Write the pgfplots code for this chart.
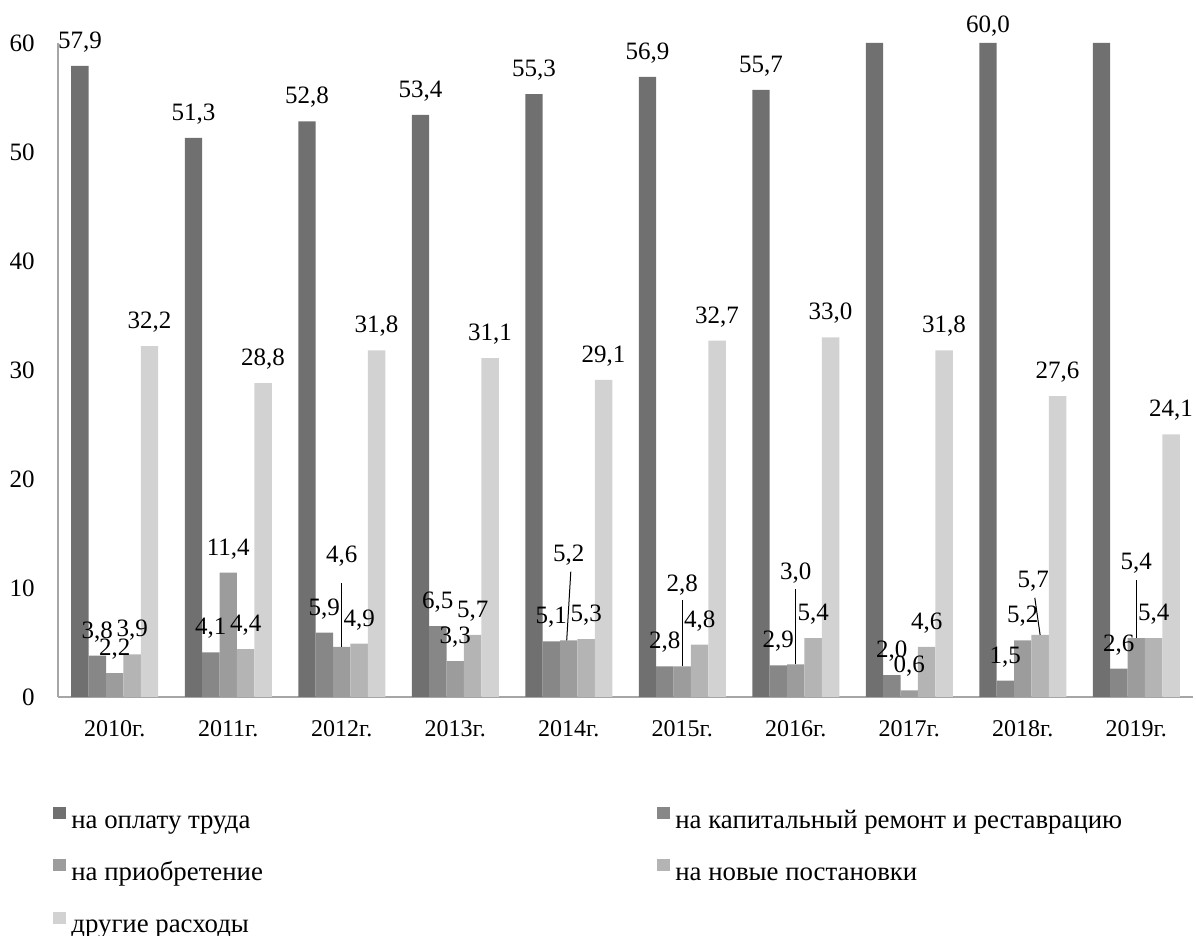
\documentclass[border=0pt]{standalone}
\usepackage{fontspec}
\setmainfont{Liberation Serif}
\usepackage{pgfplots}
\usepackage{pgfplotstable}
\pgfplotsset{compat=1.18}

\definecolor{cA}{HTML}{707070}
\definecolor{cB}{HTML}{878787}
\definecolor{cC}{HTML}{9C9C9C}
\definecolor{cD}{HTML}{B4B4B4}
\definecolor{cE}{HTML}{D2D2D2}
\definecolor{axgray}{HTML}{A6A6A6}

% x = year index (0 = 2010), ox/oy = extra label offset in pt
\pgfplotstableread{
x y hid ox oy
0 57.9 0 0 0
1 51.3 0 0 0
2 52.8 0 0 0
3 53.4 0 0 0
4 55.3 0 0 0
5 56.9 0 0 0
6 55.7 0 0 0
7 60.0 1 0 0
8 60.0 0 0 -3.5
9 60.0 1 0 0
}\sA
\pgfplotstableread{
x y hid ox oy
0 3.8 0 0 0
1 4.1 0 0 0
2 5.9 0 0 0
3 6.5 0 0 0
4 5.1 0 0 0
5 2.8 0 0 0
6 2.9 0 0 0
7 2.0 0 0 0
8 1.5 0 0 0
9 2.6 0 0 0
}\sB
\pgfplotstableread{
x y hid ox oy
0 2.2 0 0 0
1 11.4 0 0 0
2 4.6 0 0 33.5
3 3.3 0 0 0
4 5.2 0 0 30.5
5 2.8 0 0 28.5
6 3.0 0 0 33.5
7 0.6 0 0 0
8 5.2 0 0 0
9 5.4 0 0 25.5
}\sC
\pgfplotstableread{
x y hid ox oy
0 3.9 0 0 0
1 4.4 0 0 0
2 4.9 0 0 0
3 5.7 0 0 0
4 5.3 0 0 0
5 4.8 0 0 0
6 5.4 0 0 0
7 4.6 0 0 0
8 5.7 0 -3.5 14.75
9 5.4 0 0 0
}\sD
\pgfplotstableread{
x y hid ox oy
0 32.2 0 0 0
1 28.8 0 0 0
2 31.8 0 0 0
3 31.1 0 0 0
4 29.1 0 0 0
5 32.7 0 0 0
6 33.0 0 0 0
7 31.8 0 0 0
8 27.6 0 0 0
9 24.1 0 0 0
}\sE

\pgfplotsset{
  valbar/.style={
    ybar, bar width=8.7pt, bar shift=#1, draw=none,
    visualization depends on={\thisrow{hid} \as \lbhid},
    visualization depends on={\thisrow{ox} \as \lbox},
    visualization depends on={\thisrow{oy} \as \lboy},
    nodes near coords={\ifdim\lbhid pt>0.5pt\relax\else\pgfmathprintnumber[fixed,fixed zerofill,precision=1,use comma,assume math mode=true]{\pgfplotspointmeta}\fi},
    every node near coord/.append style={anchor=base, inner sep=0pt,
      font=\rmfamily\fontsize{12.5}{15}\selectfont, text=black,
      xshift=#1+\lbox pt, yshift=8.75pt+\lboy pt},
  },
  leader/.style={sharp plot, black, line width=0.5pt, forget plot},
}

\newcommand{\lent}[1]{\makebox[295.5pt][l]{\hspace{2.5pt}\rmfamily #1}}

\begin{document}
\begin{tikzpicture}
\begin{axis}[
  name=ax,
  width=567.5pt, height=327pt, scale only axis,
  xmin=-0.5, xmax=9.5, ymin=0, ymax=60,
  clip=false,
  axis x line*=bottom, axis y line*=left,
  axis line style={-, draw=axgray, line width=0.75pt},
  major tick length=0pt, tick style={draw=none},
  xtick={0,...,9},
  xticklabels={2010г.,2011г.,2012г.,2013г.,2014г.,2015г.,2016г.,2017г.,2018г.,2019г.},
  ytick={0,10,...,60},
  /pgf/number format/assume math mode=true,
  xticklabel style={anchor=base, inner sep=0pt, yshift=-19.75pt, font=\rmfamily\fontsize{12}{14}\selectfont},
  yticklabel style={anchor=east, inner sep=0pt, xshift=-11.5pt, font=\rmfamily\fontsize{12.5}{15}\selectfont},
  legend columns=2,
  legend style={at={(-0.0044,-0.168)}, anchor=north west, draw=none, fill=none,
    inner sep=0pt, row sep=12.6pt, column sep=0pt,
    nodes={inner sep=0pt, text height=8pt, text depth=3pt},
    font=\rmfamily\fontsize{13.4}{16}\selectfont},
  legend cell align=left,
  legend image code/.code={\fill[#1, draw=none] (0pt,2pt) rectangle (6.5pt,8pt);},
]
\addplot[valbar=-17.4pt, fill=cA] table[x=x,y=y] {\sA};
\addlegendentry{\lent{на оплату труда}}
\addplot[valbar=-8.7pt, fill=cB] table[x=x,y=y] {\sB};
\addlegendentry{\lent{на капитальный ремонт и реставрацию}}
\addplot[valbar=0pt, fill=cC] table[x=x,y=y] {\sC};
\addlegendentry{\lent{на приобретение}}
\addplot[valbar=8.7pt, fill=cD] table[x=x,y=y] {\sD};
\addlegendentry{\lent{на новые постановки}}
\addplot[valbar=17.4pt, fill=cE] table[x=x,y=y] {\sE};
\addlegendentry{\lent{другие расходы}}

% leader lines to the displaced labels
\addplot[leader] coordinates {(2,4.6) (2,10.5)};
\addplot[leader] coordinates {(3.982,5.2) (4.018,11.5)};
\addplot[leader] coordinates {(5,2.8) (5,8.9)};
\addplot[leader] coordinates {(6,3.0) (6,9.9)};
\addplot[leader] coordinates {(8.153,5.7) (8.106,9.1)};
\addplot[leader] coordinates {(9,5.4) (9,10.7)};
\end{axis}
\pgfresetboundingbox
\path ([xshift=-29pt,yshift=-119.5pt]ax.south west) rectangle ([xshift=1.5pt,yshift=21.5pt]ax.north east);
\end{tikzpicture}
\end{document}
